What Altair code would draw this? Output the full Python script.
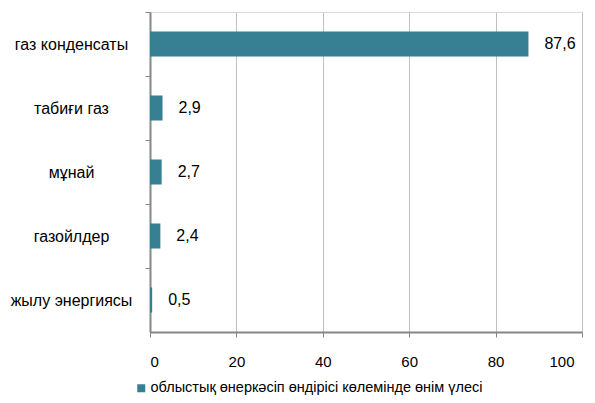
import altair as alt
import pandas as pd

categories = ["газ конденсаты", "табиғи газ", "мұнай", "газойлдер", "жылу энергиясы"]
values = [87.6, 2.9, 2.7, 2.4, 0.5]
series_name = "облыстық өнеркәсіп өндірісі көлемінде өнім үлесі"
x_ticks = [0, 20, 40, 60, 80, 100]

df = pd.DataFrame({
    "cat": categories,
    "val": values,
    "label": [f"{v:.1f}".replace(".", ",") for v in values],
    "series": [series_name] * len(categories),
})

FONT = "Liberation Sans"

y_enc = alt.Y(
    "cat:N",
    sort=categories,
    title=None,
    scale=alt.Scale(paddingInner=0, paddingOuter=0),
    axis=alt.Axis(
        labelAlign="center",
        labelPadding=74,
        labelFontSize=16,
        labelFont=FONT,
        labelColor="#000000",
        tickSize=5,
        tickColor="#868686",
        tickOffset=-32,
        labelOffset=32,
        domainColor="#868686",
        domainWidth=2,
        grid=False,
        labelLimit=300,
    ),
)

x_enc = alt.X(
    "val:Q",
    title=None,
    scale=alt.Scale(domain=[0, 100], nice=False),
    axis=alt.Axis(
        values=x_ticks,
        labelFontSize=15,
        labelFont=FONT,
        labelColor="#000000",
        labelPadding=17,
        labelOffset={"condition": {"test": "datum.value == 100", "value": -8}, "value": 0},
        tickSize=5,
        tickColor="#868686",
        domainColor="#868686",
        domainWidth=2,
        grid=True,
        gridColor="#C0C0C0",
        gridWidth=1,
    ),
)

bars = alt.Chart(df).mark_bar(size=25).encode(
    y=y_enc,
    x=x_enc,
    color=alt.Color(
        "series:N",
        scale=alt.Scale(range=["#377F93"]),
        legend=alt.Legend(
            title=None,
            orient="none",
            legendX=-16,
            legendY=369,
            symbolType="square",
            symbolSize=64,
            symbolStrokeWidth=0,
            labelFontSize=14.5,
            labelFont=FONT,
            labelColor="#000000",
            labelLimit=500,
            padding=0,
            symbolOffset=0,
            labelOffset=2,
        ),
    ),
)

texts = alt.Chart(df).mark_text(
    align="left", baseline="middle", dx=16, fontSize=16, font=FONT, color="#000000"
).encode(
    y=alt.Y("cat:N", sort=categories),
    x="val:Q",
    text="label:N",
)

chart = (bars + texts).properties(
    width=432,
    height=320,
    autosize=alt.AutoSizeParams(type="none"),
    padding={"left": 142, "top": 4, "right": 5, "bottom": 63},
).configure_view(stroke=None).configure(background="#FFFFFF")

chart.save("out.html", embed_options={"renderer": "svg", "actions": False})
